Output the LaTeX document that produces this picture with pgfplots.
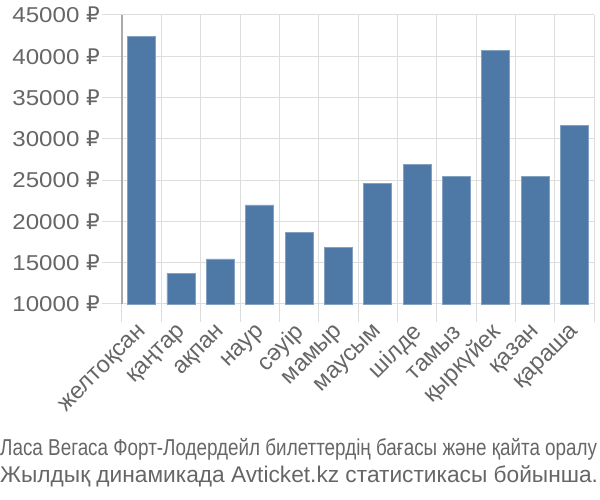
\documentclass[border=0pt]{standalone}
\usepackage{fontspec}
\setmainfont{Liberation Sans}
\newfontfamily\narrowfont[FakeStretch=0.82]{Liberation Sans}
\newfontfamily\wideft[FakeStretch=1.12]{Liberation Sans}
\newfontfamily\rubfont{DejaVu Sans}
\newcommand{\rub}{{\rubfont ₽}}
\usepackage{pgfplots}
\pgfplotsset{compat=1.18}
\definecolor{barblue}{RGB}{78,121,167}
\definecolor{gridgray}{RGB}{221,221,221}
\definecolor{axisgray}{RGB}{170,170,170}
\definecolor{labgray}{RGB}{102,102,102}
\begin{document}
\begin{tikzpicture}[x=1pt,y=1pt]
\useasboundingbox (0,0) rectangle (600,500);
\begin{axis}[
  at={(122pt,196pt)}, anchor=south west,
  scale only axis, width=472pt, height=289pt,
  xmin=-0.5, xmax=11.5, ymin=10000, ymax=45000,
  scaled y ticks=false,
  axis x line=bottom, axis y line=left,
  x axis line style={draw=gridgray, line width=1pt, -},
  y axis line style={draw=axisgray, line width=1.5pt, -},
  xtick={0,...,11},
  xticklabels={желтоқсан,қаңтар,ақпан,наур,сәуір,мамыр,маусым,шілде,тамыз,қыркүйек,қазан,қараша},
  minor xtick={-0.5,0.5,...,11.5},
  major x tick style={draw=none},
  minor x tick style={draw=gridgray, line width=1pt},
  minor tick length=18pt,
  xminorgrids, minor x grid style={draw=gridgray, line width=1pt},
  ytick={10000,15000,...,45000},
  yticklabels={10000 \rub,15000 \rub,20000 \rub,25000 \rub,30000 \rub,35000 \rub,40000 \rub,45000 \rub},
  major y tick style={draw=gridgray, line width=1pt},
  major tick length=20pt,
  tick align=outside,
  ymajorgrids, major y grid style={draw=gridgray, line width=1pt},
  tick label style={text=labgray, inner sep=0pt},
  yticklabel style={font=\wideft\fontsize{21.5}{26}\selectfont, xshift=-2pt},
  xticklabel style={font=\fontsize{23.5}{26}\selectfont, xshift=2pt, yshift=-5pt, rotate=45, anchor=east},
  ybar, bar width=28pt,
  clip=false,
]
\addplot[fill=barblue, draw=barblue!70!white, line width=0.8pt] coordinates {
(0,42350) (1,13750) (2,15450) (3,22000) (4,18700) (5,16900)
(6,24650) (7,26950) (8,25500) (9,40750) (10,25500) (11,31650)};
\end{axis}
\node[anchor=base west, inner sep=0, text=labgray, font=\narrowfont\fontsize{23}{26}\selectfont] at (0,44) {Ласа Вегаса Форт-Лодердейл билеттердің бағасы және қайта оралу};
\node[anchor=base west, inner sep=0, text=labgray, font=\fontsize{22.7}{26}\selectfont] at (0,17) {Жылдық динамикада Avticket.kz статистикасы бойынша.};
\end{tikzpicture}
\end{document}
